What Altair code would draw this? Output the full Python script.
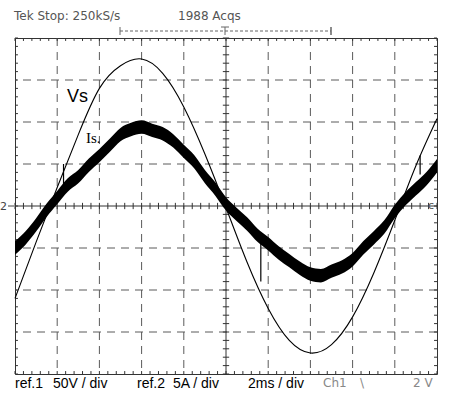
import altair as alt
import pandas as pd

# ---------------- data read from the scope screen ----------------
# time axis: 2 ms / div, 10 div
vs_t = [0, 1, 2, 3, 4, 5, 6, 7, 8, 9, 10, 11, 12, 13, 14, 15, 16, 17, 18, 19, 20]
vs_volts = [-110, -43, 22, 85, 140, 167, 175, 158, 118, 62, -2, -67, -122, -160, -175,
            -165, -132, -80, -17, 48, 104]

is_t = [0, 0.5, 1, 1.5, 2, 2.5, 3, 3.5, 4, 4.5, 5, 5.5, 6, 6.5, 7, 7.5, 8, 8.5, 9, 9.5,
        10, 10.5, 11, 11.5, 12, 12.5, 13, 13.5, 14, 14.5, 15, 15.5, 16, 16.5, 17, 17.5,
        18, 18.5, 19, 19.5, 20]
is_amps = [-5.0, -3.8, -2.25, -0.5, 1.0, 2.5, 3.5, 4.85, 6.0, 7.25, 8.5, 9.1, 9.4, 9.0,
           8.6, 7.75, 6.5, 5.25, 3.5, 2.0, 0.25, -1.0, -2.15, -3.5, -4.5, -5.6, -6.5,
           -7.4, -8.1, -8.3, -7.75, -7.25, -6.4, -5.0, -3.8, -2.5, -0.65, 0.85, 2.05,
           3.25, 4.8]

# switching transients (time in ms, extent in divisions)
spike_t = [2.3, 11.65, 19.2]
spike_hi = [1.0, -0.65, 1.2]
spike_lo = [0.5, -1.8, 0.75]

V_PER_DIV = 50   # ref.1 50V / div
A_PER_DIV = 5    # ref.2 5A / div
BAND = 0.16      # half thickness of the noisy current trace (div)

# grid definitions (divisions)
grid_t = [2, 4, 6, 8, 12, 14, 16, 18]
grid_d = [-3, -2, -1, 1, 2, 3]

W, H = 422, 336

xs = alt.Scale(domain=[0, 20], nice=False, zero=False)
ys = alt.Scale(domain=[-4, 4], nice=False, zero=False)
X = lambda f: alt.X(f, type="quantitative", scale=xs, axis=None)
Y = lambda f: alt.Y(f, type="quantitative", scale=ys, axis=None)

GRID = "#5a5a5a"

vgrid = alt.Chart(pd.DataFrame({"t": grid_t})).mark_rule(
    color=GRID, strokeWidth=1, strokeDash=[8, 6]).encode(x=X("t"))
hgrid = alt.Chart(pd.DataFrame({"d": grid_d})).mark_rule(
    color=GRID, strokeWidth=1, strokeDash=[8, 6]).encode(y=Y("d"))

center_v = alt.Chart(pd.DataFrame({"t": [10]})).mark_rule(
    color="#333", strokeWidth=1).encode(x=X("t"))
center_h = alt.Chart(pd.DataFrame({"d": [0]})).mark_rule(
    color="#333", strokeWidth=1).encode(y=Y("d"))

# minor ticks (every 0.2 div) on the centre axes and the border
tick_rows_h = []  # horizontal-axis ticks (vertical small rules)
for k in range(51):
    t = k * 0.4
    tick_rows_h.append({"t": t, "a": -0.075, "b": 0.075})
    tick_rows_h.append({"t": t, "a": 4.0, "b": 3.93})
    tick_rows_h.append({"t": t, "a": -4.0, "b": -3.93})
tick_rows_v = []  # vertical-axis ticks (horizontal small rules)
for k in range(41):
    d = -4 + k * 0.2
    tick_rows_v.append({"d": d, "a": 9.85, "b": 10.15})
    tick_rows_v.append({"d": d, "a": 0.0, "b": 0.14})
    tick_rows_v.append({"d": d, "a": 20.0, "b": 19.86})

ticks_h = alt.Chart(pd.DataFrame(tick_rows_h)).mark_rule(color="#333", strokeWidth=1).encode(
    x=X("t"), y=Y("a"), y2="b:Q")
ticks_v = alt.Chart(pd.DataFrame(tick_rows_v)).mark_rule(color="#333", strokeWidth=1).encode(
    y=Y("d"), x=X("a"), x2="b:Q")

# waveforms
is_df = pd.DataFrame({"t": is_t, "i": is_amps})
is_band = alt.Chart(is_df).transform_calculate(
    hi=f"datum.i / {A_PER_DIV} + {BAND}", lo=f"datum.i / {A_PER_DIV} - {BAND}"
).mark_area(color="black", interpolate="monotone").encode(x=X("t"), y=Y("hi"), y2="lo:Q")

vs_df = pd.DataFrame({"t": vs_t, "v": vs_volts})
vs_line = alt.Chart(vs_df).transform_calculate(
    d=f"datum.v / {V_PER_DIV}"
).mark_line(color="black", strokeWidth=1.1, interpolate="natural").encode(x=X("t"), y=Y("d"))

spikes = alt.Chart(pd.DataFrame({"t": spike_t, "hi": spike_hi, "lo": spike_lo})).mark_rule(
    color="black", strokeWidth=1.2).encode(x=X("t"), y=Y("hi"), y2="lo:Q")

dummy = pd.DataFrame({"a": [0]})


def label(text, x, y, size=12, color="black", font="Liberation Sans", align="left", weight="normal"):
    return alt.Chart(dummy).mark_text(
        align=align, baseline="alphabetic", fontSize=size, font=font, color=color,
        fontWeight=weight
    ).encode(x=alt.value(x), y=alt.value(y), text=alt.value(text))


def seg(x1, x2, y1, y2, color="#666", dash=None, width=1):
    kw = dict(color=color, strokeWidth=width)
    if dash:
        kw["strokeDash"] = dash
    return alt.Chart(dummy).mark_rule(**kw).encode(
        x=alt.value(x1), x2=alt.value(x2), y=alt.value(y1), y2=alt.value(y2))


texts = [
    label("Tek Stop: 250kS/s", -1, -18, size=12, color="#555", font="DejaVu Sans"),
    label("1988 Acqs", 163, -18, size=12, color="#555", font="DejaVu Sans"),
    label("ref.1", 0, 350, size=14),
    label("50V / div", 38, 350, size=14),
    label("ref.2", 122, 350, size=14),
    label("5A / div", 158, 350, size=14),
    label("2ms / div", 233, 350, size=14),
    label("Ch1", 308, 349, size=12, color="#888", font="DejaVu Sans"),
    label("\\", 345, 349, size=12, color="#888", font="DejaVu Sans"),
    label("2 V", 398, 349, size=12, color="#888", font="DejaVu Sans"),
    label("Vs", 52, 64, size=18),
    label("Is.", 71, 105, size=15, font="Liberation Serif"),
    label("2", -15, 172, size=11, color="#444", font="DejaVu Sans"),
    label("c", 413, 171, size=11, color="#555", font="DejaVu Sans"),
]

marks = [
    seg(105, 316, -7, -7, dash=[3, 2]),
    seg(105, 105, -11, -3),
    seg(316, 316, -11, -3, width=1.5),
    seg(210, 210, -11, -3),
    seg(206, 214, -11, -11),
    seg(-7, -1, 168, 168, color="#444"),
]

chart = alt.layer(
    vgrid, hgrid, center_v, center_h, ticks_h, ticks_v,
    is_band, vs_line, spikes, *texts, *marks
).properties(
    width=W, height=H, autosize="none",
    padding={"left": 15, "top": 38, "right": 16, "bottom": 19},
    background="white",
).configure_view(stroke="#333", strokeWidth=1)

chart.save("out.html", embed_options={"renderer": "svg", "actions": False})
